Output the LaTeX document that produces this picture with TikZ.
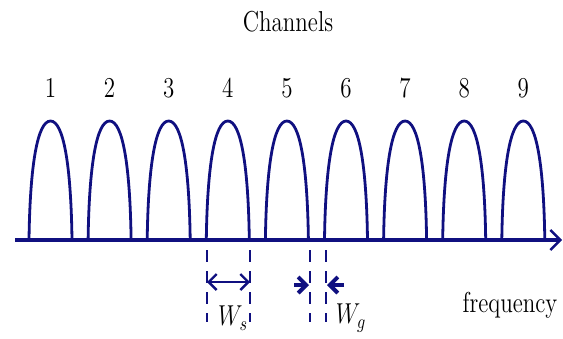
\documentclass[tikz,border=0pt]{standalone}
\usetikzlibrary{arrows.meta,positioning,calc}
\definecolor{navy}{RGB}{16,16,128}
\tikzset{
  hump/.style={navy,line width=1.4pt},
  guide/.style={navy,line width=1.1pt,dash pattern=on 6pt off 4.5pt},
  lbl/.style={font=\Large,xscale=0.8},
}
\begin{document}
\begin{tikzpicture}[x=0.5pt,y=-0.5pt,>={Straight Barb[length=4pt,width=8pt]}]
  \useasboundingbox (0,0) rectangle (563,338);
  % frequency axis
  \coordinate (ax0) at (15,240);
  \coordinate (ax1) at (562,240);
  \draw[navy,line width=1.7pt,-{Straight Barb[length=5pt,width=10pt,line width=1.2pt]}] (ax0) -- (ax1);
  % channels
  \foreach \i in {1,...,9}{
    \pgfmathsetmacro\c{50.5+(\i-1)*59.1}
    \draw[hump] (\c-21.5,240) .. controls (\c-20.5,165) and (\c-13,121) .. (\c,121)
                .. controls (\c+13,121) and (\c+20.5,165) .. (\c+21.5,240);
    \node[lbl] (ch\i) at (\c,88) {\i};
  }
  \node[lbl] (title) at (288,22) {Channels};
  % channel width
  \coordinate (s1) at (207,250); \coordinate (s1b) at (207,322);
  \coordinate (s2) at (250,250); \coordinate (s2b) at (250,322);
  \draw[guide] (s1) -- (s1b);
  \draw[guide] (s2) -- (s2b);
  \draw[navy,line width=1.2pt,<->] (207,282) -- (250,282);
  \node[lbl] (ws) at (233,318) {$W_s$};
  % guard band
  \coordinate (g1) at (310,250); \coordinate (g1b) at (310,322);
  \coordinate (g2) at (326,250); \coordinate (g2b) at (326,322);
  \draw[guide] (g1) -- (g1b);
  \draw[guide] (g2) -- (g2b);
  \coordinate (gl) at (294,285); \coordinate (gr) at (344,285);
  \draw[navy,line width=2pt,->] (gl) -- (309,285);
  \draw[navy,line width=2pt,->] (gr) -- (327,285);
  \node[lbl] (wg) at (351,318) {$W_g$};
  \node[lbl] (freq) at (510,305) {frequency};
\end{tikzpicture}
\end{document}
